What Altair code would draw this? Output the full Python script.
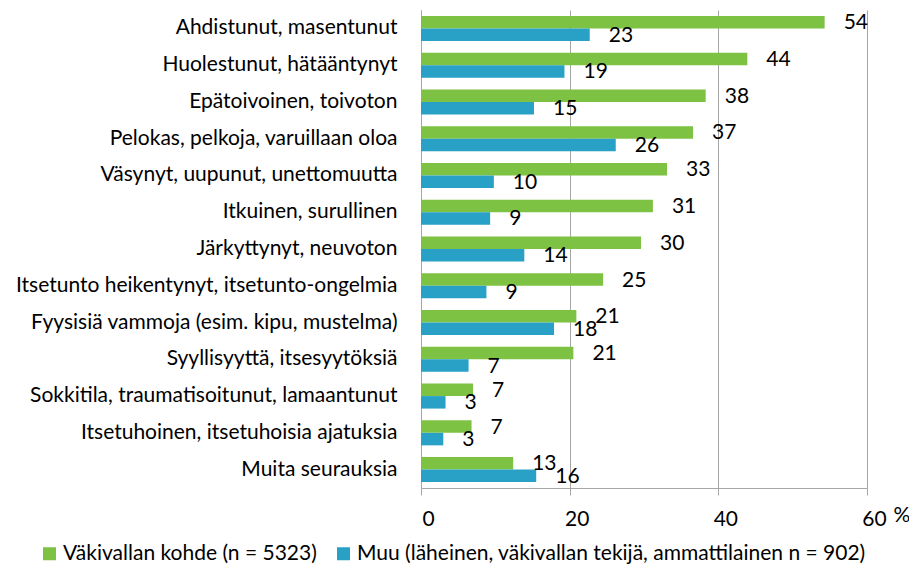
import altair as alt
import pandas as pd

categories = [
    "Ahdistunut, masentunut",
    "Huolestunut, hätääntynyt",
    "Epätoivoinen, toivoton",
    "Pelokas, pelkoja, varuillaan oloa",
    "Väsynyt, uupunut, unettomuutta",
    "Itkuinen, surullinen",
    "Järkyttynyt, neuvoton",
    "Itsetunto heikentynyt, itsetunto-ongelmia",
    "Fyysisiä vammoja (esim. kipu, mustelma)",
    "Syyllisyyttä, itsesyytöksiä",
    "Sokkitila, traumatisoitunut, lamaantunut",
    "Itsetuhoinen, itsetuhoisia ajatuksia",
    "Muita seurauksia",
]
victim = [54.3, 43.9, 38.3, 36.6, 33.1, 31.2, 29.6, 24.5, 20.9, 20.5, 7.0, 6.8, 12.4]
other = [22.7, 19.3, 15.2, 26.2, 9.8, 9.3, 13.9, 8.8, 17.9, 6.4, 3.3, 3.0, 15.5]
victim_labels = ["54", "44", "38", "37", "33", "31", "30", "25", "21", "21", "7", "7", "13"]
other_labels = ["23", "19", "15", "26", "10", "9", "14", "9", "18", "7", "3", "3", "16"]
series = [
    "Väkivallan kohde (n = 5323)",
    "Muu (läheinen, väkivallan tekijä, ammattilainen n = 902)",
]
colors = ["#7DC243", "#29A1C6"]
x_ticks = [0, 20, 40, 60]

FONT = "Lato"
FS = 21
GRID = "#A6A6A6"

rows = []
for c, v, l in zip(categories, victim, victim_labels):
    rows.append({"cat": c, "series": series[0], "value": v, "label": l})
for c, v, l in zip(categories, other, other_labels):
    rows.append({"cat": c, "series": series[1], "value": v, "label": l})
df = pd.DataFrame(rows)

y_enc = alt.Y(
    "cat:N",
    sort=categories,
    scale=alt.Scale(paddingInner=0.32, paddingOuter=0.16),
    axis=alt.Axis(
        title=None, ticks=False, domainColor=GRID, labelFont=FONT, labelFontSize=FS,
        labelColor="#000000", labelPadding=24, labelLimit=0,
    ),
)
yoff = alt.YOffset("series:N", sort=series, scale=alt.Scale(paddingInner=0, paddingOuter=0))
x_enc = alt.X(
    "value:Q",
    scale=alt.Scale(domain=[0, 60], nice=False),
    axis=alt.Axis(
        title=None, values=x_ticks, grid=True, gridColor=GRID, domainColor=GRID,
        tickColor=GRID, tickSize=7, labelFont=FONT, labelFontSize=FS, labelColor="#000000",
        labelOffset=7, labelPadding=13, labelFlush=False,
    ),
)

bars = alt.Chart(df).mark_bar().encode(
    y=y_enc,
    yOffset=yoff,
    x=x_enc,
    color=alt.Color(
        "series:N",
        sort=series,
        scale=alt.Scale(domain=series, range=colors),
        legend=alt.Legend(
            title=None, orient="none", legendX=-382, legendY=533, direction="horizontal",
            columns=2, symbolType="square", symbolSize=169, symbolStrokeWidth=0,
            labelFont=FONT, labelFontSize=FS, labelColor="#000000", labelLimit=0,
            columnPadding=16, labelOffset=3,
        ),
    ),
)

labels = alt.Chart(df).mark_text(
    align="left", baseline="middle", dx=19, dy=1, font=FONT, fontSize=FS, color="#000000"
).encode(
    y=alt.Y("cat:N", sort=categories),
    yOffset=alt.YOffset("series:N", sort=series),
    x=alt.X("value:Q"),
    text="label:N",
)

pct = alt.Chart(pd.DataFrame({"t": ["%"]})).mark_text(
    align="center", baseline="middle", font=FONT, fontSize=FS, color="#000000"
).encode(text="t:N", x=alt.value(481), y=alt.value(506))

chart = (
    alt.layer(bars, labels, pct)
    .properties(
        width=446,
        height=478,
        autosize=alt.AutoSizeParams(type="none"),
        padding={"left": 413, "top": 2, "right": 42, "bottom": 77},
        background="#FFFFFF",
    )
    .configure_view(stroke=None)
)

chart.save("out.html", embed_options={"renderer": "svg", "actions": False})
